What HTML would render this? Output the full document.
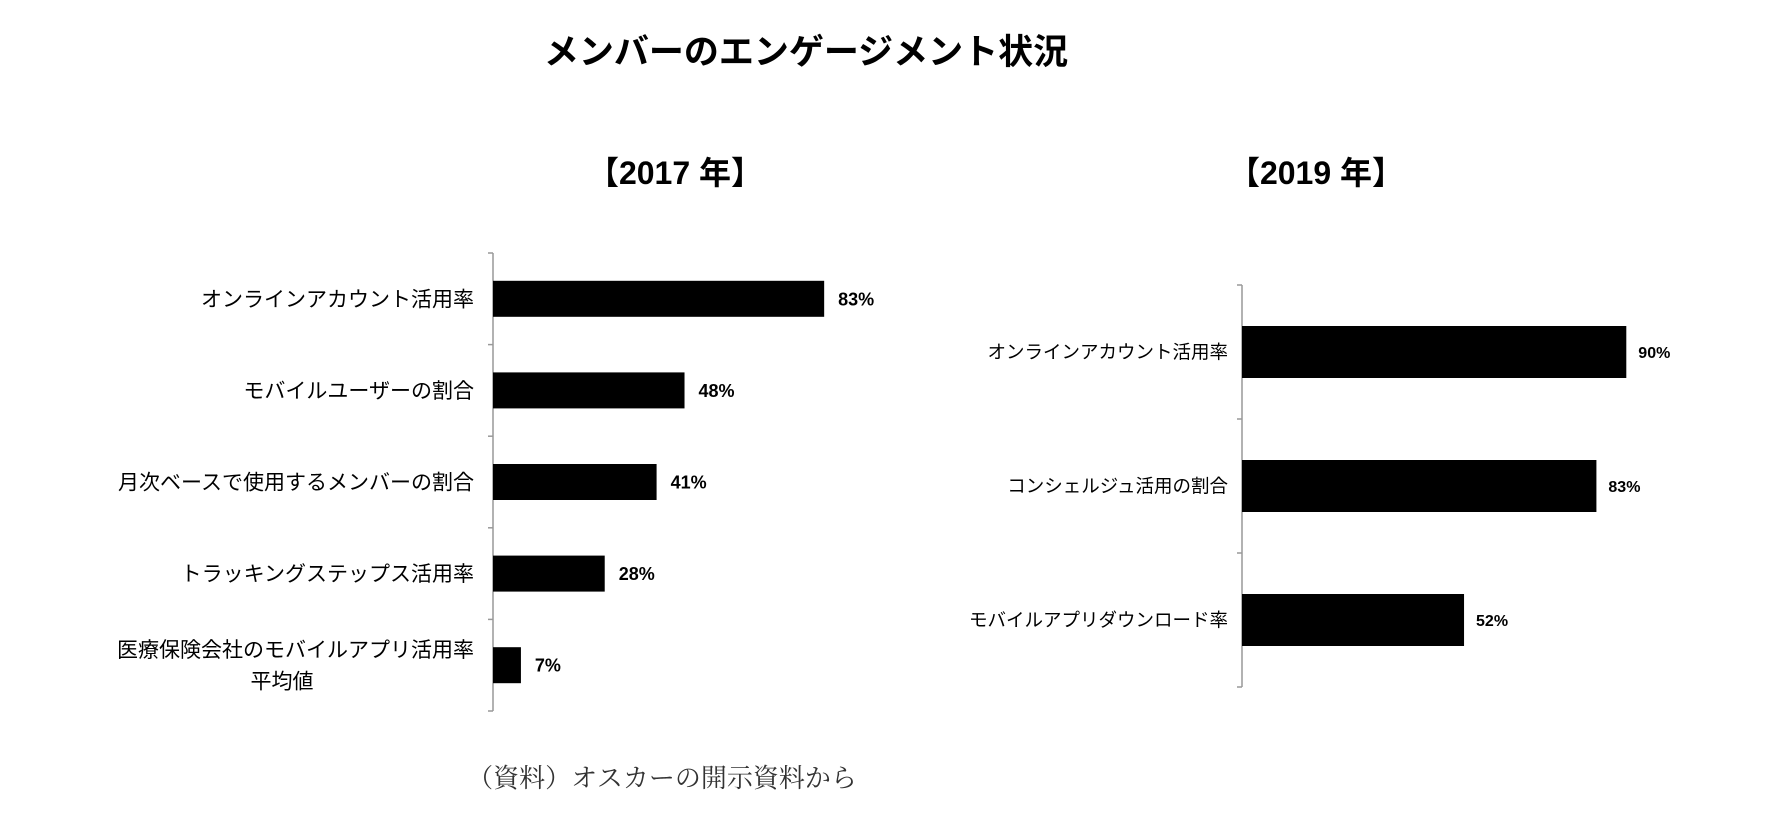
<!DOCTYPE html>
<html><head><meta charset="utf-8"><style>
body{margin:0;background:#fff;width:1784px;height:822px;overflow:hidden;font-family:"Liberation Sans","Noto Sans CJK JP",sans-serif;}
</style></head><body>
<svg width="1784" height="822" xmlns="http://www.w3.org/2000/svg" id="svg">
<text x="806" y="64" text-anchor="middle" font-size="35" font-weight="bold" font-family="Liberation Sans,Noto Sans CJK JP,sans-serif">メンバーのエンゲージメント状況</text>
<text x="675" y="184" text-anchor="middle" font-size="32" font-weight="bold" font-family="Liberation Sans,Noto Sans CJK JP,sans-serif">【2017 年】</text>
<text x="1316" y="184" text-anchor="middle" font-size="32" font-weight="bold" font-family="Liberation Sans,Noto Sans CJK JP,sans-serif">【2019 年】</text>
<text x="662" y="787" text-anchor="middle" font-size="26" fill="#333" font-family="Liberation Serif,Noto Serif CJK SC,serif">（資料）オスカーの開示資料から</text>
<g id="c1"></g>
<g id="c2"></g>
</svg>
<script>
const cats2017=[["オンラインアカウント活用率"],["モバイルユーザーの割合"],["月次ベースで使用するメンバーの割合"],["トラッキングステップス活用率"],["医療保険会社のモバイルアプリ活用率","平均値"]];
const vals2017=[83,48,41,28,7];
const labels2017=["83%","48%","41%","28%","7%"];
const cats2019=[["オンラインアカウント活用率"],["コンシェルジュ活用の割合"],["モバイルアプリダウンロード率"]];
const vals2019=[90,83,52];
const labels2019=["90%","83%","52%"];
const NS="http://www.w3.org/2000/svg";
function mk(p,t,a){const e=document.createElementNS(NS,t);for(const k in a)e.setAttribute(k,a[k]);p.appendChild(e);return e;}
function draw(g,cats,vals,labs,o){
  const n=cats.length,band=(o.y1-o.y0)/n;
  const x=v=>o.x0+v*o.ppu, y=i=>o.y0+band*i+band/2;
  const ax=mk(g,'line',{x1:o.x0,y1:o.y0,x2:o.x0,y2:o.y1,stroke:'#999','stroke-width':1.5});
  
  
  for(let i=0;i<=n;i++){const t=mk(g,'line',{x1:o.x0-5,y1:o.y0+band*i,x2:o.x0,y2:o.y0+band*i,stroke:'#999','stroke-width':1.5});
    
    }
  vals.forEach((v,i)=>{
    const r=mk(g,'rect',{x:o.x0,y:y(i)-o.bh/2,width:x(v)-o.x0,height:o.bh,fill:'#000'});
    
    
    const t=mk(g,'text',{x:x(v)+o.gap,y:y(i)+o.vf*0.36,'font-size':o.vf,'font-weight':'bold','font-family':'Liberation Sans,sans-serif'});
    t.textContent=labs[i];
    
    
    const lines=cats[i];
    lines.forEach((s,j)=>{
      const mid=lines.length>1&&j>0;
      const c=mk(g,'text',{x:mid?o.lx2:o.lx,y:y(i)+o.cf*0.36+(j-(lines.length-1)/2)*o.cf*1.5,'text-anchor':mid?'middle':'end','font-size':o.cf,'font-family':'Liberation Sans,Noto Sans CJK JP,sans-serif'});
      c.textContent=s;
      
      
    });
  });
}
draw(document.getElementById('c1'),cats2017,vals2017,labels2017,{x0:493,y0:253,y1:711,ppu:3.99,bh:36,gap:14,vf:18,cf:21,lx:474,lx2:282});
draw(document.getElementById('c2'),cats2019,vals2019,labels2019,{x0:1242,y0:285,y1:687,ppu:4.27,bh:52,gap:12,vf:16,cf:18.5,lx:1228,lx2:1228});
</script>
</body></html>
